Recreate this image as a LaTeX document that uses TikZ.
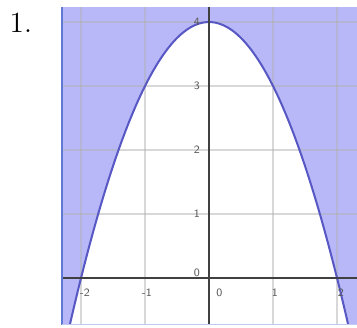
\documentclass[tikz,border=0pt]{standalone}
\definecolor{areablue}{RGB}{184,184,248}
\definecolor{curveblue}{RGB}{88,88,196}
\definecolor{rimblue}{RGB}{96,120,214}
\definecolor{ticktext}{RGB}{90,90,90}
\begin{document}
\begin{tikzpicture}[every node/.style={inner sep=0pt, outer sep=0pt},
  ticklabel/.style={font=\sffamily\fontsize{5}{5}\selectfont, text=ticktext},
  gridline/.style={black!30, opacity=0.5, line width=0.5pt}]
\useasboundingbox (-3.266,-0.766) rectangle (2.312,4.344);
\node (num) at (-2.94,3.99) {\fontsize{13}{13}\selectfont 1.};
\begin{scope}
\clip (-2.3,-0.73) rectangle (2.312,4.23);
\fill[areablue] (-2.3,-0.73) rectangle (2.312,4.23);
\fill[white] plot[domain=-2.4:2.4, samples=80, smooth] (\x,{4-\x*\x}) -- cycle;
\draw[gridline] (-2,-0.73) -- (-2,4.23);
\draw[gridline] (-1,-0.73) -- (-1,4.23);
\draw[gridline] (1,-0.73) -- (1,4.23);
\draw[gridline] (2,-0.73) -- (2,4.23);
\draw[gridline] (-2.3,1) -- (2.312,1);
\draw[gridline] (-2.3,2) -- (2.312,2);
\draw[gridline] (-2.3,3) -- (2.312,3);
\draw[gridline] (-2.3,4) -- (2.312,4);
\draw[curveblue, line width=0.9pt] plot[domain=-2.4:2.4, samples=80, smooth] (\x,{4-\x*\x});
\draw[black!75, line width=0.6pt] (-2.3,0) -- (2.312,0);
\draw[black!75, line width=0.6pt] (0,-0.73) -- (0,4.23);
\end{scope}
\draw[rimblue, line width=0.8pt] (-2.3,-0.73) -- (-2.3,4.23);
\draw[rimblue!40, line width=0.6pt] (-2.3,-0.73) -- (2.312,-0.73);
\node[ticklabel] (xm2) at (-1.94,-0.23) {-2};
\node[ticklabel] (xm1) at (-0.97,-0.23) {-1};
\node[ticklabel] (x0) at (0.16,-0.23) {0};
\node[ticklabel] (x1) at (1.03,-0.23) {1};
\node[ticklabel] (x2) at (2.06,-0.23) {2};
\node[ticklabel] (y0) at (-0.19,0.08) {0};
\node[ticklabel] (y1) at (-0.19,1) {1};
\node[ticklabel] (y2) at (-0.19,2) {2};
\node[ticklabel] (y3) at (-0.19,3) {3};
\node[ticklabel] (y4) at (-0.19,4) {4};
\end{tikzpicture}
\end{document}
